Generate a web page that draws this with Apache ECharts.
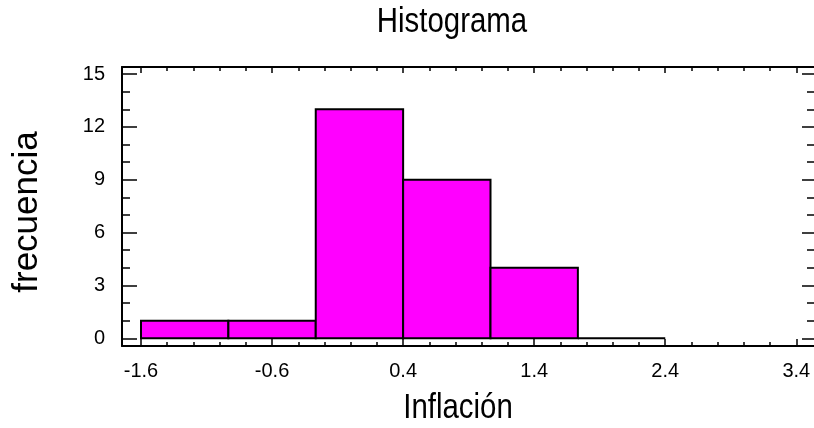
<!DOCTYPE html>
<html>
<head>
<meta charset="utf-8">
<script src="https://cdn.jsdelivr.net/npm/echarts@6/dist/echarts.min.js"></script>
<style>
  html, body { margin: 0; padding: 0; background: #fff; }
  #main { width: 814px; height: 428px; }
</style>
</head>
<body>
<div id="main"></div>
<script>
// bins of width 2/3 from -1.6 to 2.4
const binStart = [-1.6, -0.9333, -0.2667, 0.4, 1.0667, 1.7333];
const binEnd = [-0.9333, -0.2667, 0.4, 1.0667, 1.7333, 2.4];
const counts = [1, 1, 13, 9, 4, 0];

const xMajor = [-1.6, -0.6, 0.4, 1.4, 2.4, 3.4];
const xMinor = [-1.4, -1.2, -1.0, -0.8, -0.4, -0.2, 0, 0.2, 0.6, 0.8, 1.0, 1.2,
  1.6, 1.8, 2.0, 2.2, 2.6, 2.8, 3.0, 3.2];
const yMajor = [0, 3, 6, 9, 12, 15];
const yMinor = [1, 2, 4, 5, 7, 8, 10, 11, 13, 14];

const XMIN = -1.745, XMAX = 3.535;
const YMIN = -0.44, YMAX = 15.4;

const font = "'Liberation Sans', Arial, sans-serif";

const chart = echarts.init(document.getElementById('main'));

function xAx(pos, ticks, len, opts) {
  return Object.assign({
    type: 'value', position: pos, min: XMIN, max: XMAX,
    splitLine: { show: false },
    axisLine: { show: false, onZero: false },
    axisTick: { show: true, inside: true, length: len, customValues: ticks,
      lineStyle: { color: '#000', width: 1.5 } },
    axisLabel: { show: false }
  }, opts || {});
}
function yAx(pos, ticks, len, opts) {
  return Object.assign({
    type: 'value', position: pos, min: YMIN, max: YMAX,
    splitLine: { show: false },
    axisLine: { show: false, onZero: false },
    axisTick: { show: true, inside: true, length: len, customValues: ticks,
      lineStyle: { color: '#000', width: 1.5 } },
    axisLabel: { show: false }
  }, opts || {});
}

const option = {
  animation: false,
  backgroundColor: '#fff',
  // titles drawn as graphic text so they can be condensed like the original
  graphic: [
    { type: 'text', x: 452, y: 22, scaleX: 0.84,
      style: { text: 'Histograma', fontFamily: font, fontSize: 35, fill: '#000',
        textAlign: 'center', textVerticalAlign: 'middle' } },
    { type: 'text', x: 458, y: 408, scaleX: 0.84,
      style: { text: 'Inflación', fontFamily: font, fontSize: 35, fill: '#000',
        textAlign: 'center', textVerticalAlign: 'middle' } },
    { type: 'text', x: 27, y: 212, rotation: Math.PI / 2,
      style: { text: 'frecuencia', fontFamily: font, fontSize: 35, fill: '#000',
        textAlign: 'center', textVerticalAlign: 'middle' } }
  ],
  grid: { left: 122, right: 0, top: 67, bottom: 82 },
  xAxis: [
    xAx('bottom', xMajor, 7, {
      axisLine: { show: true, onZero: false, lineStyle: { color: '#000', width: 2 } },
      axisLabel: { show: true, customValues: xMajor, margin: 15,
        fontFamily: font, fontSize: 20, color: '#000' }
    }),
    xAx('bottom', xMinor, 4),
    xAx('top', xMajor, 6, {
      axisLine: { show: true, onZero: false, lineStyle: { color: '#000', width: 2 } }
    }),
    xAx('top', xMinor, 4)
  ],
  yAxis: [
    yAx('left', yMajor, 15, {
      axisLine: { show: true, onZero: false, lineStyle: { color: '#000', width: 2 } },
      axisLabel: { show: true, customValues: yMajor, margin: 17,
        fontFamily: font, fontSize: 20, color: '#000' }
    }),
    yAx('left', yMinor, 8),
    yAx('right', yMajor, 12),
    yAx('right', yMinor, 7)
  ],
  series: [{
    type: 'custom',
    xAxisIndex: 0, yAxisIndex: 0,
    data: counts.map((c, i) => [binStart[i], binEnd[i], c]),
    renderItem: function (params, api) {
      const p0 = api.coord([api.value(0), 0]);
      const p1 = api.coord([api.value(1), api.value(2)]);
      return {
        type: 'rect',
        shape: { x: p0[0], y: p1[1], width: p1[0] - p0[0], height: p0[1] - p1[1] },
        style: { fill: '#ff00ff', stroke: '#000', lineWidth: 2 }
      };
    }
  }]
};

chart.setOption(option);
</script>
</body>
</html>
